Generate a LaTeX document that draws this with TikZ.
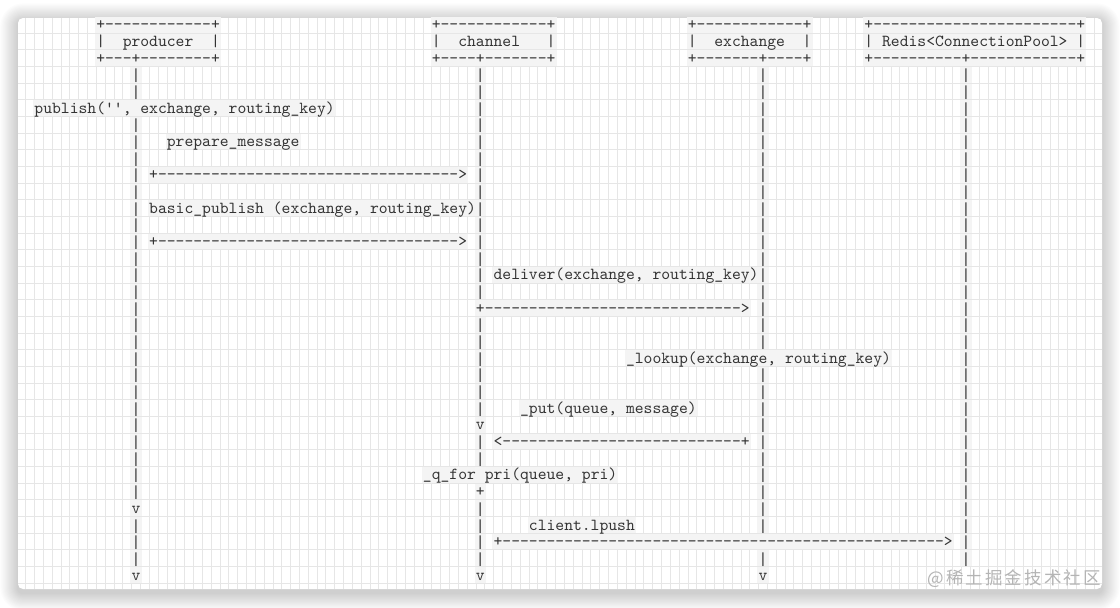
\documentclass[tikz,border=0pt]{standalone}
\usepackage{fontspec}
\setmonofont[Extension=.otf]{lmmono10-regular}
\newfontfamily\barfont{Liberation Mono}
\newfontfamily\cjk{Noto Sans CJK SC}
\ExplSyntaxOn
\NewDocumentCommand\rep{mm}{\prg_replicate:nn{#1}{#2}}
\ExplSyntaxOff
\definecolor{ink}{HTML}{333333}
\definecolor{band}{HTML}{F4F4F4}
\definecolor{gridc}{HTML}{E6E6E6}
\definecolor{wm}{HTML}{B4B4B4}
\newcommand\seg[3]{\node[seg] (r#1c#2) at ({34.45+8.83*#2},{29.9+16.67*#1}) {#3};}
\newcommand\pipes[2]{\foreach \cc in {#2}{\node[seg,font=\barfont\fontsize{14.71}{16.67}\selectfont] (r#1c\cc) at ({34.45+8.83*\cc},{29.9+16.67*#1}) {|};}}
\begin{document}
\begin{tikzpicture}[x=1pt,y=-1pt,
  seg/.style={anchor=text,fill=band,text=ink,inner xsep=1.2pt,inner ysep=0pt,
    text height=13pt,text depth=2.8pt,
    font=\ttfamily\fontsize{16.82}{16.67}\selectfont},
  wmark/.style={anchor=east,text=wm,inner sep=0pt,
    font=\cjk\addfontfeature{LetterSpace=12}\fontsize{17.5}{17.5}\selectfont}]
\useasboundingbox (0,0) rectangle (1120,608);
\fill[white] (0,0) rectangle (1120,608);
% shadow
\foreach \i in {1,...,16}{
  \fill[black,opacity=0.011,rounded corners={5+\i*1.1}]
    ({18-\i*1.1},{21-\i*1.1}) rectangle ({1102+\i*1.1},{593+\i*1.1});
}
% card
\fill[white,rounded corners=5] (18,18) rectangle (1102,589);
\begin{scope}
\clip[rounded corners=5] (18,18) rectangle (1102,589);
\foreach \k in {-1,...,120}{\draw[gridc,line width=0.7pt] ({34.45+8.83*\k},18) -- ({34.45+8.83*\k},589);}
\foreach \k in {1,...,34}{\draw[gridc,line width=0.7pt] (18,{16.3+16.67*\k}) -- (1102,{16.3+16.67*\k});}
\end{scope}
% boxes
\seg{0}{7}{+\rep{12}{-}+}
\seg{0}{45}{+\rep{12}{-}+}
\seg{0}{74}{+\rep{12}{-}+}
\seg{0}{94}{+\rep{23}{-}+}
\seg{1}{7}{|~~producer~~|}
\seg{1}{45}{|~~channel~~~|}
\seg{1}{74}{|~~exchange~~|}
\seg{1}{94}{|~Redis<ConnectionPool>~|}
\seg{2}{7}{+\rep{3}{-}+\rep{8}{-}+}
\seg{2}{45}{+\rep{4}{-}+\rep{7}{-}+}
\seg{2}{74}{+\rep{7}{-}+\rep{4}{-}+}
\seg{2}{94}{+\rep{10}{-}+\rep{12}{-}+}
% lifelines and messages
\pipes{3}{11,50,82,105}
\pipes{4}{11,50,82,105}
\seg{5}{0}{publish('',~exchange,~routing\_key)}
\pipes{5}{50,82,105}
\pipes{6}{11,50,82,105}
\pipes{7}{11,50,82,105}
\seg{7}{15}{prepare\_message}
\pipes{8}{11,50,82,105}
\pipes{9}{11,50,82,105}
\seg{9}{13}{+\rep{34}{-}>}
\pipes{10}{11,50,82,105}
\seg{11}{13}{basic\_publish~(exchange,~routing\_key)}
\pipes{11}{11,50,82,105}
\pipes{12}{11,50,82,105}
\pipes{13}{11,50,82,105}
\seg{13}{13}{+\rep{34}{-}>}
\pipes{14}{11,50,82,105}
\seg{15}{52}{deliver(exchange,~routing\_key)}
\pipes{15}{11,50,82,105}
\pipes{16}{11,50,82,105}
\pipes{17}{11,82,105}
\seg{17}{50}{+\rep{29}{-}>}
\pipes{18}{11,50,82,105}
\pipes{19}{11,50,82,105}
\pipes{20}{11,50,105}
\seg{20}{67}{\_lookup(exchange,~routing\_key)}
\pipes{21}{11,50,82,105}
\pipes{22}{11,50,82,105}
\pipes{23}{11,50,82,105}
\seg{23}{55}{\_put(queue,~message)}
\pipes{24}{11,82,105}
\seg{24}{50}{v}
\pipes{25}{11,50,82,105}
\seg{25}{52}{<\rep{27}{-}+}
\pipes{26}{11,50,82,105}
\pipes{27}{11,82,105}
\seg{27}{44}{\_q\_for~pri(queue,~pri)}
\pipes{28}{11,82,105}
\seg{28}{50}{+}
\pipes{29}{50,82,105}
\seg{29}{11}{v}
\pipes{30}{11,50,82,105}
\seg{30}{56}{client.lpush}
\pipes{31}{11,50,105}
\seg{31}{52}{+\rep{50}{-}>}
\pipes{32}{11,50,82,105}
\seg{33}{11}{v}
\seg{33}{50}{v}
\seg{33}{82}{v}
% watermark
\node[wmark] (wm) at (1101,579) {@稀土掘金技术社区};
\end{tikzpicture}
\end{document}
